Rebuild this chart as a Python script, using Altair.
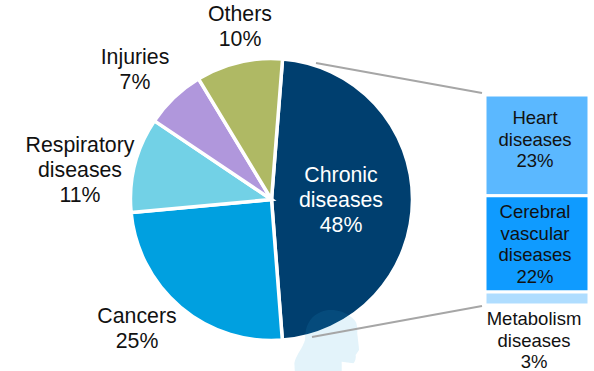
import altair as alt
import pandas as pd

# Causes of death, whole population (%)
causes = ["Chronic diseases", "Cancers", "Respiratory diseases", "Injuries", "Others"]
shares = [48, 25, 11, 7, 10]
cause_colors = ["#003f6f", "#00a0e0", "#72d1e6", "#b097dc", "#afb964"]

# Breakdown of the chronic slice (%)
chronic_parts = ["Heart", "Cerebral", "Metabolism"]
part_shares = [23, 22, 3]
part_colors = ["#5bb8ff", "#0f9bff", "#afddff"]

W, H = 594, 371
CX, CY, R = 271.5, 199.5, 141
START = 0.0785  # first slice begins just past twelve o'clock, in radians
TWO_PI = 6.283185307

pie_df = pd.DataFrame({"cause": causes, "share": shares, "idx": range(len(causes))})
pie = (
    alt.Chart(pie_df)
    .mark_arc(stroke="white", strokeWidth=3.5)
    .encode(
        x=alt.value(CX),
        y=alt.value(CY),
        radius=alt.value(R),
        theta=alt.Theta(
            "share:Q",
            stack=True,
            scale=alt.Scale(domain=[0, sum(shares)], range=[START, START + TWO_PI]),
        ),
        order=alt.Order("idx:Q"),
        color=alt.Color(
            "cause:N", legend=None, scale=alt.Scale(domain=causes, range=cause_colors)
        ),
    )
)

bar_df = pd.DataFrame({"part": chronic_parts, "share": part_shares, "idx": range(3)})
bars = (
    alt.Chart(bar_df)
    .transform_window(top="sum(share)", sort=[alt.SortField("idx")])
    .transform_calculate(base="datum.top - datum.share")
    .mark_rect(stroke="white", strokeWidth=3)
    .encode(
        x=alt.value(485),
        x2=alt.value(589),
        y=alt.Y(
            "base:Q",
            axis=None,
            scale=alt.Scale(domain=[0, sum(part_shares)], range=[95, 305], nice=False),
        ),
        y2="top:Q",
        color=alt.Color(
            "part:N",
            legend=None,
            scale=alt.Scale(domain=chronic_parts, range=part_colors),
        ),
    )
)


def connector(x1, y1, x2, y2):
    return (
        alt.Chart(pd.DataFrame({"k": [0]}))
        .mark_rule(color="#a6a6a6", strokeWidth=2)
        .encode(x=alt.value(x1), y=alt.value(y1), x2=alt.value(x2), y2=alt.value(y2))
    )


def label(text, x, y, size, color="#111111"):
    # y is the centre of the first line; further lines run downward from it
    return (
        alt.Chart(pd.DataFrame({"t": [text]}))
        .mark_text(
            font="Liberation Sans",
            fontSize=size,
            color=color,
            lineBreak="\n",
            lineHeight=size * 1.17,
            align="center",
            baseline="middle",
        )
        .encode(x=alt.value(x), y=alt.value(y), text="t:N")
    )


# Pale head silhouette lying across the bottom of the pie
HEAD = (
    "M 0.05 -0.90 C 0.30 -0.92 0.52 -0.84 0.65 -0.75 C 0.80 -0.65 0.90 -0.55 0.90 -0.45 "
    "C 0.94 -0.30 0.90 -0.20 0.93 -0.10 C 0.94 0.05 0.97 0.20 0.97 0.30 L 0.87 0.45 "
    "C 0.88 0.55 0.86 0.65 0.80 0.70 L 0.45 0.65 L 0.45 1.05 L -0.95 1.05 L -0.97 0.70 "
    "C -0.95 0.58 -0.90 0.50 -0.85 0.40 C -0.75 0.25 -0.68 0.10 -0.65 0 "
    "C -0.65 -0.20 -0.62 -0.38 -0.55 -0.50 C -0.48 -0.65 -0.38 -0.73 -0.25 -0.80 "
    "C -0.15 -0.86 -0.05 -0.89 0.05 -0.90 Z"
)
head = (
    alt.Chart(pd.DataFrame({"k": [0]}))
    .mark_point(shape=HEAD, filled=True, size=4444, color="#28a0dc", opacity=0.13, strokeWidth=0)
    .encode(x=alt.value(326.7), y=alt.value(340))
)

layers = [
    pie,
    head,
    bars,
    connector(316, 63, 482, 93),
    connector(312, 337, 482, 306),
    label("Chronic\ndiseases\n48%", 341, 176, 21.3, "white"),
    label("Cancers\n25%", 137, 317, 21.3),
    label("Respiratory\ndiseases\n11%", 80, 146, 21.3),
    label("Injuries\n7%", 135, 58, 21.3),
    label("Others\n10%", 240, 15, 21.3),
    label("Heart\ndiseases\n23%", 535, 118, 18.5),
    label("Cerebral\nvascular\ndiseases\n22%", 535, 212, 18.5),
    label("Metabolism\ndiseases\n3%", 534, 319, 18.5),
]

chart = (
    alt.layer(*layers)
    .resolve_scale(color="independent")
    .properties(width=W, height=H, padding=0, autosize=alt.AutoSizeParams(type="none"))
    .configure_view(stroke=None)
)

chart.save("out.html", embed_options={"renderer": "svg", "actions": False})
